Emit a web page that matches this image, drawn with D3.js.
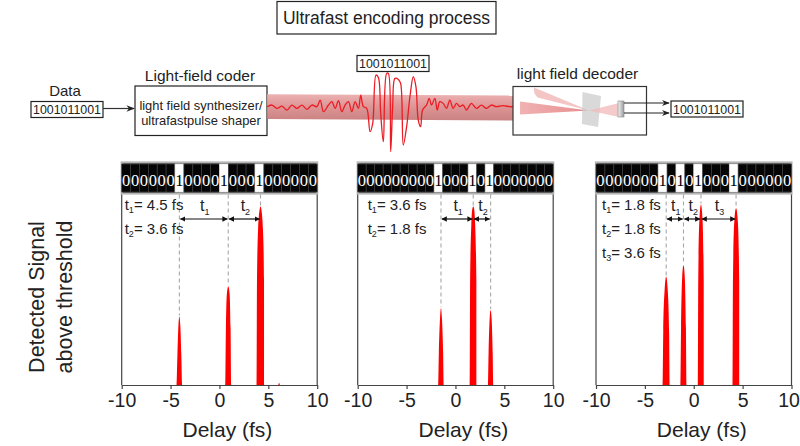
<!DOCTYPE html>
<html>
<head>
<meta charset="utf-8">
<script src="https://cdn.jsdelivr.net/npm/d3@7"></script>
<style>
  body { margin: 0; background: #fff; }
  svg { display: block; font-family: "Liberation Sans", Arial, sans-serif; }
</style>
</head>
<body>
<main></main>
<script>
/************************************************************************
 Data
************************************************************************/
const bitString = '1001011001';
const delayTicks = [-10, -5, 0, 5, 10];

// binary strips above each panel
const stripCodes = ['0000001000010001000000', '00000000010001010000000', '0000000101010001000000'];

// dashed marker positions (fs) and peak heights (a.u.)
const peakDelays = [[-4.1, 0.9, 4.2], [-1.48, 1.82, 3.6], [-2.82, -1.05, 0.74, 4.33]];
const peakHeights = [[0.36, 0.52, 0.94], [0.405, 0.94, 0.395], [0.57, 0.63, 0.95, 0.93]];
const intervalValues = [['4.5', '3.6'], ['3.6', '1.8'], ['1.8', '1.8', '3.6']];

// detected signal traces [delay fs, signal]
const signalA = [[-10, 0], [-4.38, 0], [-4.3, 0.16], [-4.2, 0.31], [-4.1, 0.36], [-4.0, 0.31], [-3.9, 0.16], [-3.82, 0],
  [0.6, 0], [0.66, 0.3], [0.76, 0.48], [0.9, 0.52], [1.04, 0.48], [1.14, 0.3], [1.2, 0],
  [3.8, 0], [3.84, 0.55], [3.95, 0.82], [4.1, 0.92], [4.2, 0.94], [4.3, 0.92], [4.45, 0.82], [4.56, 0.55], [4.6, 0],
  [6.0, 0], [6.1, 0.012], [6.2, 0], [10, 0]];
const signalB = [[-10, 0], [-1.77, 0], [-1.7, 0.17], [-1.58, 0.35], [-1.48, 0.405], [-1.38, 0.35], [-1.26, 0.17], [-1.19, 0],
  [1.46, 0], [1.5, 0.55], [1.62, 0.84], [1.74, 0.93], [1.82, 0.94], [1.9, 0.93], [2.02, 0.84], [2.14, 0.55], [2.18, 0],
  [3.33, 0], [3.39, 0.17], [3.5, 0.35], [3.6, 0.395], [3.7, 0.35], [3.81, 0.17], [3.87, 0], [10, 0]];
const signalC = [[-10, 0], [-3.18, 0], [-3.12, 0.28], [-2.98, 0.5], [-2.82, 0.57], [-2.66, 0.5], [-2.52, 0.28], [-2.46, 0],
  [-1.36, 0], [-1.3, 0.3], [-1.18, 0.57], [-1.05, 0.63], [-0.92, 0.57], [-0.8, 0.3], [-0.74, 0],
  [0.42, 0], [0.46, 0.55], [0.58, 0.87], [0.74, 0.95], [0.9, 0.87], [1.02, 0.55], [1.06, 0],
  [3.97, 0], [4.01, 0.55], [4.15, 0.86], [4.33, 0.93], [4.51, 0.86], [4.65, 0.55], [4.69, 0], [10, 0]];
const signals = [signalA, signalB, signalC];

// encoded light field travelling between coder and decoder (arb. time, arb. field)
const waveTime = [0, 1.5, 3, 4.5, 6, 7.5, 9, 10.5, 12, 13.5, 15, 16, 17, 18.5, 19.5, 20.5, 21.5, 22.5, 23.5, 24.5,
  25.5, 26.5, 27.5, 28.2, 29, 30, 31, 31.8, 32.8, 33.5, 34.2, 35, 36, 36.5, 37.2, 37.8, 38.5, 39.5, 40.2, 41,
  42, 43, 44, 44.8, 45.5, 46.2, 46.8, 48, 48.8, 49.5, 50.5, 51.2, 52, 53, 54, 55, 56, 57, 58, 59,
  60, 61.5, 63, 64.5, 66, 67.5, 69, 71, 73, 74];
const waveField = [0, 0.05, -0.05, 0.02, -0.1, 0.05, -0.05, 0.05, -0.08, 0.05, 0, 0.2, -0.15, 0.05, 0.15, -0.05, 0.18, -0.15, 0.05, 0.15,
  -0.15, 0.15, -0.05, 0.35, 0, -0.05, -0.75, -0.5, 0.95, 0.88, -0.2, -1.05, 1.0, 1.0, -1.35, 0, 0.85, 0.82, 0.7, -1.15,
  -0.6, 0.3, 0.9, 0.6, -0.4, -0.6, -0.1, 0.05, 0.25, 0.05, 0.25, -0.1, 0.15, 0.1, -0.05, 0.2, -0.05, 0.1, 0, 0.05,
  -0.1, 0.1, -0.05, 0.05, -0.05, 0.05, 0, 0.03, 0, 0];


/************************************************************************
 Layout
************************************************************************/
const width = 800;
const height = 446;
const panelLeft = [121.7, 357.7, 596];
const panelWidth = 195.5;
const stripTop = 162.5;
const stripBottom = 193.5;
const axisY = 385;
const infoOffset = [3, 10, 6];
const arrowY = 219;

const svg = d3.select('main')
  .append('svg')
  .attr('width', width)
  .attr('height', height);

const defs = svg.append('defs');

defs.append('marker')
  .attr('id', 'head')
  .attr('viewBox', '0 0 10 10')
  .attr('refX', 9).attr('refY', 5)
  .attr('markerWidth', 7).attr('markerHeight', 7)
  .attr('orient', 'auto-start-reverse')
  .append('path')
  .attr('d', 'M0,1 L10,5 L0,9 L3,5 Z')
  .attr('fill', '#222');

defs.append('marker')
  .attr('id', 'smallHead')
  .attr('viewBox', '0 0 10 10')
  .attr('refX', 9).attr('refY', 5)
  .attr('markerWidth', 4.5).attr('markerHeight', 4.5)
  .attr('orient', 'auto-start-reverse')
  .append('path')
  .attr('d', 'M0,0 L10,5 L0,10 Z')
  .attr('fill', '#111');

const beamGrad = defs.append('linearGradient')
  .attr('id', 'beamGrad')
  .attr('x1', 0).attr('y1', 0).attr('x2', 0).attr('y2', 1);
beamGrad.append('stop').attr('offset', '0%').attr('stop-color', '#e9a9a9');
beamGrad.append('stop').attr('offset', '45%').attr('stop-color', '#db8a8a');
beamGrad.append('stop').attr('offset', '100%').attr('stop-color', '#c57474');

const coneGrad = defs.append('linearGradient')
  .attr('id', 'coneGrad')
  .attr('x1', 0).attr('y1', 0).attr('x2', 1).attr('y2', 0);
coneGrad.append('stop').attr('offset', '0%').attr('stop-color', '#ee9f9f');
coneGrad.append('stop').attr('offset', '100%').attr('stop-color', '#e07070');

const detGrad = defs.append('linearGradient')
  .attr('id', 'detGrad')
  .attr('x1', 0).attr('y1', 0).attr('x2', 1).attr('y2', 0);
detGrad.append('stop').attr('offset', '0%').attr('stop-color', '#f4f4f4');
detGrad.append('stop').attr('offset', '100%').attr('stop-color', '#9a9a9a');


/************************************************************************
 Top diagram: encoding process
************************************************************************/
const ink = '#222';

// title box
svg.append('rect')
  .attr('x', 277).attr('y', 1.5).attr('width', 219).attr('height', 32.5)
  .attr('fill', '#fff').attr('stroke', ink).attr('stroke-width', 1.2);
svg.append('text')
  .attr('x', 386.5).attr('y', 24)
  .attr('text-anchor', 'middle')
  .attr('font-size', 17.5)
  .attr('fill', ink)
  .text('Ultrafast encoding process');

// small boxed bit strings
const bitBox = (cx, cy) => {
  svg.append('rect')
    .attr('x', cx - 36).attr('y', cy - 8).attr('width', 72).attr('height', 16)
    .attr('fill', '#fff').attr('stroke', ink).attr('stroke-width', 1.2);
  svg.append('text')
    .attr('x', cx).attr('y', cy + 4.5)
    .attr('text-anchor', 'middle')
    .attr('font-size', 12.4)
    .attr('fill', ink)
    .text(bitString);
};

svg.append('text')
  .attr('x', 65).attr('y', 96)
  .attr('text-anchor', 'middle')
  .attr('font-size', 15)
  .attr('fill', ink)
  .text('Data');
bitBox(67, 109.5);

svg.append('line')
  .attr('x1', 103).attr('y1', 108.5).attr('x2', 134).attr('y2', 108.5)
  .attr('stroke', '#333').attr('stroke-width', 1.2)
  .attr('marker-end', 'url(#head)');

// coder
svg.append('text')
  .attr('x', 200).attr('y', 81)
  .attr('text-anchor', 'middle')
  .attr('font-size', 15.5)
  .attr('fill', ink)
  .text('Light-field coder');
svg.append('rect')
  .attr('x', 135).attr('y', 86).attr('width', 132).attr('height', 49.5)
  .attr('fill', '#fff').attr('stroke', ink).attr('stroke-width', 1.2);
svg.append('text')
  .attr('x', 201).attr('y', 110)
  .attr('text-anchor', 'middle').attr('font-size', 12.9).attr('fill', ink)
  .text('light field synthesizer/');
svg.append('text')
  .attr('x', 201).attr('y', 125)
  .attr('text-anchor', 'middle').attr('font-size', 12.9).attr('fill', ink)
  .text('ultrafastpulse shaper');

// beam
svg.append('path')
  .attr('d', 'M267,94.3 L513,95.5 L513,120.5 L267,119 Z')
  .attr('fill', 'url(#beamGrad)')
  .attr('opacity', 0.9);

// field
const waveX = d3.scaleLinear().domain([0, 74]).range([267, 513]);
const waveY = d3.scaleLinear().domain([-1, 1]).range([140, 73.4]);
const waveLine = d3.line()
  .x(d => waveX(d[0]))
  .y(d => waveY(d[1]))
  .curve(d3.curveCatmullRom.alpha(0.5));

svg.append('path')
  .datum(waveTime.map((t, i) => [t, waveField[i]]))
  .attr('d', waveLine)
  .attr('fill', 'none')
  .attr('stroke', '#ec1c24')
  .attr('stroke-width', 1.3);

bitBox(393, 63.5);

// decoder
svg.append('text')
  .attr('x', 577.5).attr('y', 79)
  .attr('text-anchor', 'middle')
  .attr('font-size', 15.5)
  .attr('fill', ink)
  .text('light field decoder');
svg.append('rect')
  .attr('x', 513).attr('y', 86.5).attr('width', 133.5).attr('height', 48.5)
  .attr('fill', 'none').attr('stroke', '#333').attr('stroke-width', 1.2);

svg.append('path')
  .attr('d', 'M534,87.5 L589,110.5 L537.5,97.5 Q533,93 534,87.5 Z')
  .attr('fill', '#f0adad').attr('opacity', 0.7);
svg.append('path')
  .attr('d', 'M520,101.5 L589,110.5 L520,114.5 Z')
  .attr('fill', 'url(#coneGrad)').attr('opacity', 0.8);
svg.append('path')
  .attr('d', 'M582.5,92 L601,96 L598,127 L582,124 Z')
  .attr('fill', '#c4c4c4').attr('opacity', 0.65);
svg.append('path')
  .attr('d', 'M589,110.5 L619,103 L619,117 Z')
  .attr('fill', '#f2b8b8').attr('opacity', 0.75);
svg.append('rect')
  .attr('x', 618).attr('y', 101).attr('width', 6).attr('height', 16)
  .attr('fill', 'url(#detGrad)').attr('stroke', '#888').attr('stroke-width', 0.6);

[103, 113].forEach(y => {
  svg.append('line')
    .attr('x1', 624).attr('y1', y).attr('x2', 669).attr('y2', y)
    .attr('stroke', '#222').attr('stroke-width', 1.1)
    .attr('marker-end', 'url(#head)');
});
bitBox(707, 109);


/************************************************************************
 Bottom panels
************************************************************************/
const yScale = d3.scaleLinear()
  .domain([0, 1])
  .range([axisY, 195]);

svg.append('text')
  .attr('transform', `translate(44, 297)rotate(-90)`)
  .attr('text-anchor', 'middle')
  .attr('font-size', 21.5)
  .attr('fill', ink)
  .text('Detected Signal');
svg.append('text')
  .attr('transform', `translate(72, 297)rotate(-90)`)
  .attr('text-anchor', 'middle')
  .attr('font-size', 21.5)
  .attr('fill', ink)
  .text('above threshold');

panelLeft.forEach((left, p) => {
  const xScale = d3.scaleLinear()
    .domain([-10, 10])
    .range([left, left + panelWidth]);

  const g = svg.append('g');

  // frame
  g.append('path')
    .attr('d', `M${left},${stripBottom} V${axisY} M${left + panelWidth},${stripBottom} V${axisY}`)
    .attr('stroke', '#444').attr('stroke-width', 1.2).attr('fill', 'none');

  // binary strip
  const code = stripCodes[p].split('');
  const cell = panelWidth / code.length;
  g.append('rect')
    .attr('x', left).attr('y', stripTop).attr('width', panelWidth).attr('height', stripBottom - stripTop)
    .attr('fill', '#000').attr('stroke', '#b4b4b4').attr('stroke-width', 2.2);
  g.selectAll('.cell')
    .data(code)
    .enter()
    .append('rect')
    .attr('x', (d, i) => left + i * cell)
    .attr('y', stripTop + 1.5)
    .attr('width', cell)
    .attr('height', stripBottom - stripTop - 3)
    .attr('fill', d => d === '1' ? '#fff' : '#050505')
    .attr('stroke', d => d === '1' ? '#ddd' : '#444')
    .attr('stroke-width', 0.7);
  g.selectAll('.digit')
    .data(code)
    .enter()
    .append('text')
    .attr('x', (d, i) => left + (i + 0.5) * cell)
    .attr('y', stripTop + 23.5)
    .attr('text-anchor', 'middle')
    .attr('font-family', '"Liberation Serif", "Times New Roman", serif')
    .attr('font-size', 16.5)
    .attr('fill', d => d === '1' ? '#000' : '#fff')
    .text(d => d);

  // signal
  const area = d3.area()
    .x(d => xScale(d[0]))
    .y0(yScale(0))
    .y1(d => yScale(d[1]))
    .curve(d3.curveMonotoneX);
  g.append('path')
    .datum(signals[p])
    .attr('d', area)
    .attr('fill', '#ff0000');

  // dashed markers
  g.selectAll('.mark')
    .data(peakDelays[p])
    .enter()
    .append('line')
    .attr('x1', d => xScale(d)).attr('x2', d => xScale(d))
    .attr('y1', stripBottom + 1)
    .attr('y2', (d, i) => yScale(peakHeights[p][i]) - 1)
    .attr('stroke', '#a8a8a8')
    .attr('stroke-width', 1.1)
    .attr('stroke-dasharray', '4,3');

  // intervals
  intervalValues[p].forEach((v, i) => {
    const xa = xScale(peakDelays[p][i]);
    const xb = xScale(peakDelays[p][i + 1]);
    g.append('line')
      .attr('x1', xa + 1).attr('x2', xb - 1)
      .attr('y1', arrowY).attr('y2', arrowY)
      .attr('stroke', '#111').attr('stroke-width', 1.2)
      .attr('marker-start', 'url(#smallHead)')
      .attr('marker-end', 'url(#smallHead)');

    const lbl = g.append('text')
      .attr('x', (xa + xb) / 2 + 1)
      .attr('y', 211)
      .attr('text-anchor', 'middle')
      .attr('font-size', 16)
      .attr('fill', ink);
    lbl.append('tspan').text('t');
    lbl.append('tspan').attr('font-size', 9).attr('dy', 4).text(i + 1);

    const info = g.append('text')
      .attr('x', left + infoOffset[p])
      .attr('y', 209.5 + i * 24)
      .attr('font-size', 15)
      .attr('fill', ink);
    info.append('tspan').text('t');
    info.append('tspan').attr('font-size', 9).attr('dy', 3.5).text(i + 1);
    info.append('tspan').attr('dy', -3.5).text(`= ${v} fs`);
  });

  // x axis
  const xAxis = d3.axisBottom(xScale)
    .tickValues(delayTicks)
    .tickSize(4)
    .tickSizeOuter(0)
    .tickPadding(4)
    .tickFormat(d => d);

  const axisG = g.append('g')
    .attr('transform', `translate(0, ${axisY})`)
    .call(xAxis);
  axisG.select('.domain').attr('stroke', '#444').attr('stroke-width', 1.2);
  axisG.selectAll('.tick line').attr('stroke', '#444').attr('stroke-width', 1.2);
  axisG.selectAll('.tick text')
    .attr('font-family', '"Liberation Sans", Arial, sans-serif')
    .attr('font-size', 19.5)
    .attr('fill', ink);

  // the last label sits against the page edge
  if (p === panelLeft.length - 1) {
    axisG.selectAll('.tick text')
      .filter(d => d === 10)
      .attr('dx', -3);
  }

  g.append('text')
    .attr('x', left + panelWidth / 2 + 8)
    .attr('y', 437)
    .attr('text-anchor', 'middle')
    .attr('font-size', 21)
    .attr('fill', ink)
    .text('Delay (fs)');
});
</script>
</body>
</html>
